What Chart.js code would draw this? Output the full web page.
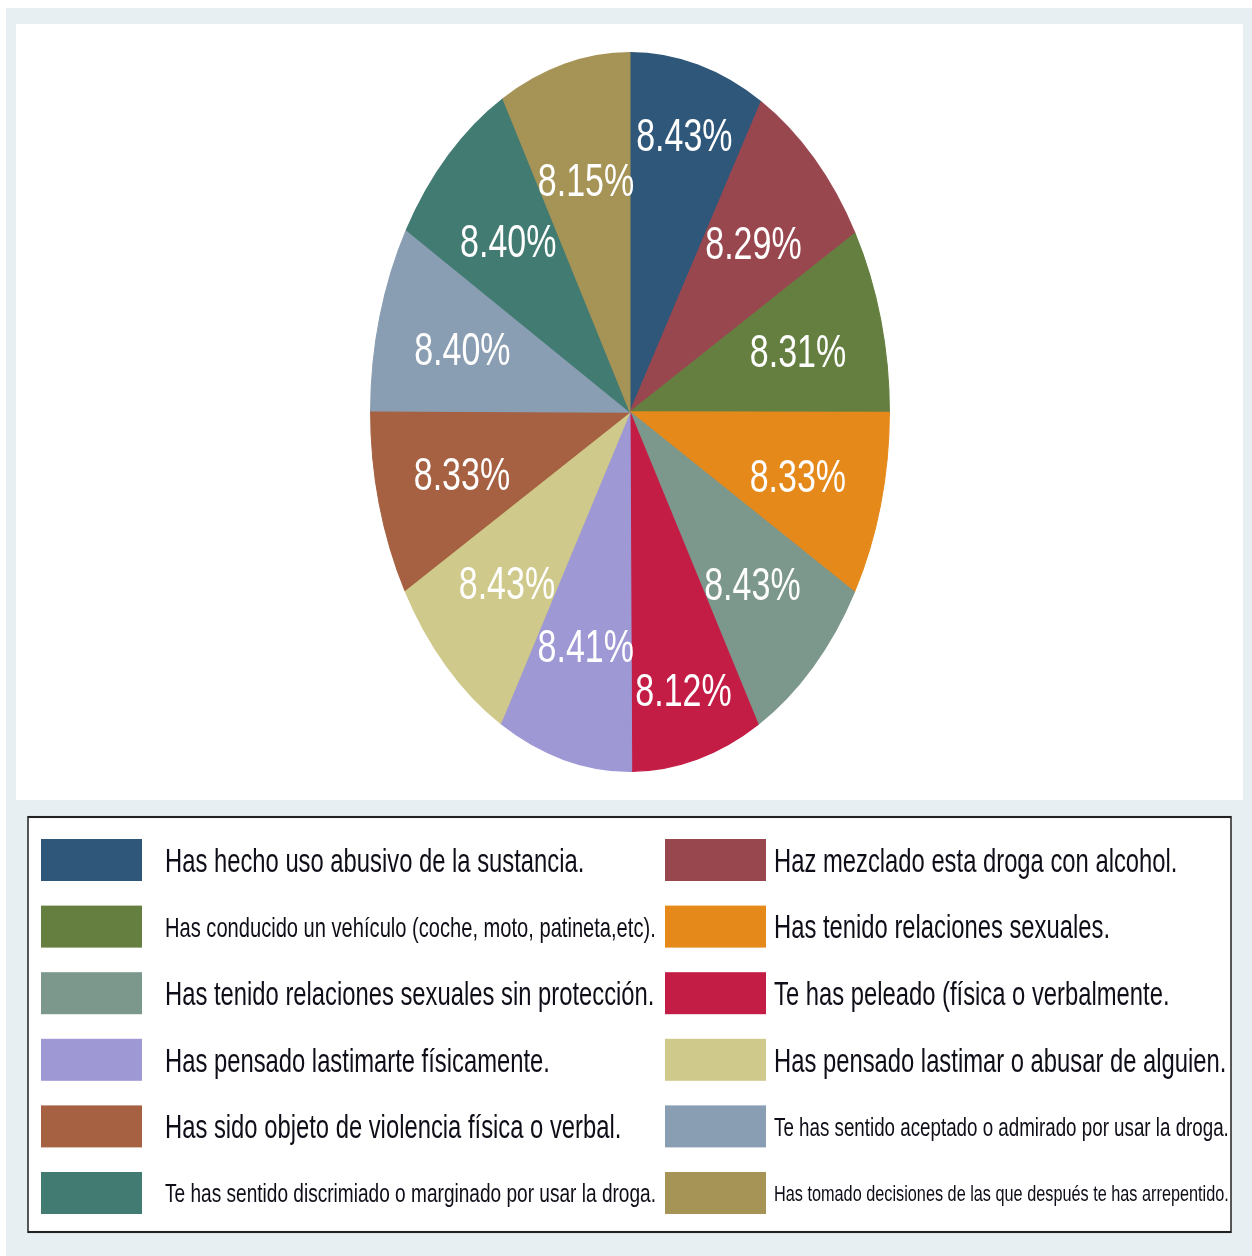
<!DOCTYPE html>
<html lang="es">
<head>
<meta charset="utf-8">
<title>Conductas asociadas al consumo</title>
<script src="https://cdn.jsdelivr.net/npm/chart.js@4/dist/chart.umd.min.js"></script>
<style>
  html, body { margin: 0; padding: 0; background: #fff; }
  #wrap { width: 1252px; height: 1256px; }
</style>
</head>
<body>
<div id="wrap"><canvas id="pie" width="1252" height="1256"></canvas></div>
<script>
// ============================
// Datos (porciones en sentido horario desde las 12)
// ============================
const categorias = [
  "Has hecho uso abusivo de la sustancia.",
  "Haz mezclado esta droga con alcohol.",
  "Has conducido un vehículo (coche, moto, patineta,etc).",
  "Has tenido relaciones sexuales.",
  "Has tenido relaciones sexuales sin protección.",
  "Te has peleado (física o verbalmente.",
  "Has pensado lastimarte físicamente.",
  "Has pensado lastimar o abusar de alguien.",
  "Has sido objeto de violencia física o verbal.",
  "Te has sentido aceptado o admirado por usar la droga.",
  "Te has sentido discrimiado o marginado por usar la droga.",
  "Has tomado decisiones de las que después te has arrepentido."
];

const porcentajes = [8.43, 8.29, 8.31, 8.33, 8.43, 8.12, 8.41, 8.43, 8.33, 8.40, 8.40, 8.15];

const colores = [
  "#2f5779", "#99474f", "#657f41", "#e5891b", "#7c978b", "#c41d45",
  "#9e98d5", "#cfc98b", "#a56141", "#899eb3", "#427b72", "#a69356"
];

// ============================
// Geometría del lienzo
// ============================
// todo se dibuja "aplastado" y luego se estira en vertical
const ESTIRA = 1.385;
const sy = v => v / ESTIRA;   // y de pantalla -> y de dibujo
const ANCHO = 1252;
const ALTO = 1256;

const FUENTE = '"Liberation Sans", Arial, sans-serif';

// ============================
// Plugin: marco, etiquetas y leyenda estilo Stata
// ============================
const marcoStata = {
  id: "marcoStata",

  beforeDraw(chart) {
    const ctx = chart.ctx;
    ctx.save();
    ctx.scale(1, ESTIRA);

    ctx.fillStyle = "#ffffff";
    ctx.fillRect(0, 0, ANCHO, sy(ALTO));
    // banda gris exterior
    ctx.fillStyle = "#e8eff2";
    ctx.fillRect(6, sy(8), ANCHO - 6, sy(ALTO) - sy(8));
    // zona del gráfico
    ctx.fillStyle = "#ffffff";
    ctx.fillRect(16, sy(24), 1227, sy(800) - sy(24));
    // caja de la leyenda
    ctx.fillRect(28, sy(817), 1203, sy(1232) - sy(817));
    ctx.strokeStyle = "#222";
    ctx.lineWidth = 1.5;
    ctx.strokeRect(28, sy(817), 1203, sy(1232) - sy(817));
  },

  afterDatasetsDraw(chart) {
    const ctx = chart.ctx;
    const arcs = chart.getDatasetMeta(0).data;
    const tam = 34;
    const alto = tam * 0.72;
    const hueco = 7;

    ctx.font = `${tam}px ${FUENTE}`;
    ctx.fillStyle = "#ffffff";
    ctx.textAlign = "center";
    ctx.textBaseline = "alphabetic";

    // se colocan de la última a la primera; si chocan, se empujan hacia fuera
    const puestas = [];
    for (let i = arcs.length - 1; i >= 0; i--) {
      const a = arcs[i].getProps(["x", "y", "startAngle", "endAngle", "outerRadius"], true);
      const mid = (a.startAngle + a.endAngle) / 2;
      const txt = porcentajes[i].toFixed(2) + "%";
      const w = ctx.measureText(txt).width;
      let r = a.outerRadius * 0.67;
      let caja;
      const choca = c => puestas.some(b =>
        c.x0 < b.x1 + hueco && c.x1 > b.x0 - hueco &&
        c.y0 < b.y1 + hueco && c.y1 > b.y0 - hueco);
      while (true) {
        const cx = a.x + Math.cos(mid) * r;
        const cy = a.y + Math.sin(mid) * r;
        caja = { cx, cy, x0: cx - w / 2, x1: cx + w / 2, y0: cy - alto / 2, y1: cy + alto / 2 };
        if (!choca(caja) || r > a.outerRadius) break;
        r += 1;
      }
      puestas.push(caja);
      ctx.fillText(txt, caja.cx, caja.cy + alto / 2);
    }
  },

  afterDraw(chart) {
    const ctx = chart.ctx;
    const filaY0 = 860;      // centro de la primera fila (pantalla)
    const pasoFila = 66.6;
    const muestraX = [41, 665];
    const textoX = [165, 774];
    const anchoMax = [491, 455];

    ctx.textAlign = "left";
    ctx.textBaseline = "alphabetic";
    categorias.forEach((cat, i) => {
      const col = i % 2;
      const fila = Math.floor(i / 2);
      const cy = sy(filaY0 + fila * pasoFila);

      ctx.fillStyle = colores[i];
      ctx.fillRect(muestraX[col], cy - sy(21), 101, sy(42));

      // texto reducido si no cabe en su columna
      let tam = 23.8;
      ctx.font = `${tam}px ${FUENTE}`;
      const w = ctx.measureText(cat).width;
      if (w > anchoMax[col]) {
        tam = tam * anchoMax[col] / w;
        ctx.font = `${tam}px ${FUENTE}`;
      }
      ctx.fillStyle = "#0e0e18";
      ctx.fillText(cat, textoX[col], cy + tam * 0.358);
    });

    ctx.restore();
  }
};

// ============================
// Gráfico
// ============================
const chart = new Chart(document.getElementById("pie"), {
  type: "pie",
  data: {
    labels: categorias,
    datasets: [{
      data: porcentajes,
      backgroundColor: colores,
      borderColor: colores,
      borderWidth: 1
    }]
  },
  options: {
    responsive: false,
    animation: false,
    devicePixelRatio: 1,
    events: [],
    layout: {
      padding: { left: 370, right: ANCHO - 890, top: sy(52), bottom: ALTO - sy(772) }
    },
    plugins: {
      legend: { display: false },
      tooltip: { enabled: false }
    }
  },
  plugins: [marcoStata]
});
</script>
</body>
</html>
